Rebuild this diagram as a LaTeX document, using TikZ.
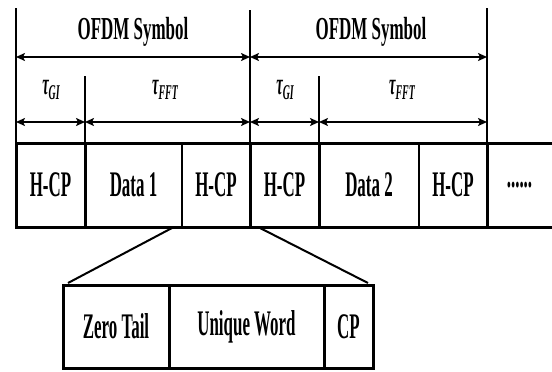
\documentclass[tikz,border=0pt]{standalone}
\usepackage{fontspec}
\setmainfont{Liberation Serif}[FakeStretch=0.47]
\newfontfamily\lblfont{Liberation Serif}[FakeStretch=0.53]
\usetikzlibrary{arrows.meta}
\newcommand{\tauof}[1]{{\fontsize{31}{31}\selectfont\bfseries\itshape τ\raisebox{-5pt}{\fontsize{21}{21}\selectfont #1}}}
\begin{document}
\begin{tikzpicture}[x=1pt,y=-1pt,
  cell/.style={minimum height=84pt, inner sep=0pt, outer sep=0pt, anchor=west,
    font=\fontsize{36}{36}\selectfont\bfseries},
  zcell/.style={minimum height=83pt, inner sep=0pt, outer sep=0pt, anchor=west,
    font=\fontsize{36}{36}\selectfont\bfseries},
  lbl/.style={inner sep=0pt, font=\lblfont\fontsize{32}{32}\selectfont\bfseries},
  tlbl/.style={inner sep=0pt},
  frame/.style={line width=3pt},
  thin/.style={line width=1.5pt},
  guide/.style={line width=1.3pt},
  dim/.style={line width=2pt, {Stealth[length=9pt,width=8pt,inset=2pt]}-{Stealth[length=9pt,width=8pt,inset=2pt]}},
  link/.style={line width=2pt}]
\useasboundingbox (0,0) rectangle (552,372);

% main row cells
\node[cell, minimum width=69pt]  (c1) at (16,185)  {H-CP};
\node[cell, minimum width=97pt]  (c2) at (c1.east) {Data 1};
\node[cell, minimum width=68pt]  (c3) at (c2.east) {H-CP};
\node[cell, minimum width=69pt]  (c4) at (c3.east) {H-CP};
\node[cell, minimum width=100pt] (c5) at (c4.east) {Data 2};
\node[cell, minimum width=68pt]  (c6) at (c5.east) {H-CP};
\node[cell, minimum width=65pt]  (c7) at (c6.east) {......};

% frame of main row
\draw[frame] (c7.north east) -- (c1.north west) -- (c1.south west) -- (c7.south east);
\draw[frame] (c1.north east) -- (c1.south east);
\draw[frame] (c3.north east) -- (c3.south east);
\draw[frame] (c4.north east) -- (c4.south east);
\draw[frame] (c6.north east) -- (c6.south east);
\draw[thin] (c2.north east) -- (c2.south east);
\draw[thin] (c5.north east) -- (c5.south east);

% guide lines
\coordinate (g0) at (c1.north west |- 0,8);
\coordinate (g1) at (c3.north east |- 0,10);
\coordinate (g2) at (c6.north east |- 0,8);
\coordinate (h0) at (c1.north east |- 0,76);
\coordinate (h1) at (c4.north east |- 0,76);
\draw[guide] (g0) -- (c1.north west);
\draw[guide] (g1) -- (c3.north east);
\draw[guide] (g2) -- (c6.north east);
\draw[guide] (h0) -- (c1.north east);
\draw[guide] (h1) -- (c4.north east);

% dimension arrows
\coordinate (a0) at (g0 |- 0,57);
\coordinate (a1) at (g1 |- 0,57);
\coordinate (a2) at (g2 |- 0,57);
\coordinate (b0) at (g0 |- 0,122);
\coordinate (b1) at (h0 |- 0,122);
\coordinate (b2) at (g1 |- 0,122);
\coordinate (b3) at (h1 |- 0,122);
\coordinate (b4) at (g2 |- 0,122);
\draw[dim] (a0) -- (a1);
\draw[dim] (a1) -- (a2);
\draw[dim] (b0) -- (b1);
\draw[dim] (b1) -- (b2);
\draw[dim] (b2) -- (b3);
\draw[dim] (b3) -- (b4);

% labels
\node[lbl] (s1) at (133,32) {OFDM Symbol};
\node[lbl] (s2) at (371,32) {OFDM Symbol};
\node[tlbl] (t1) at (51,90)  {\tauof{GI}};
\node[tlbl] (t2) at (165,90) {\tauof{FFT}};
\node[tlbl] (t3) at (285,90) {\tauof{GI}};
\node[tlbl] (t4) at (402,90) {\tauof{FFT}};

% zoomed section
\node[zcell, minimum width=106pt] (z1) at (63,326.5) {Zero Tail};
\node[zcell, minimum width=155pt] (z2) at (z1.east) {Unique Word};
\node[zcell, minimum width=49pt]  (z3) at (z2.east) {CP};
\draw[frame] (z1.north west) rectangle (z3.south east);
\draw[frame] (z1.north east) -- (z1.south east);
\draw[frame] (z2.north east) -- (z2.south east);

\coordinate (p1) at (172,228);
\coordinate (p2) at (260,228);
\draw[link] (p1) -- ([xshift=5pt,yshift=2pt]z1.north west);
\draw[link] (p2) -- ([xshift=-5pt,yshift=2pt]z3.north east);
\end{tikzpicture}
\end{document}
